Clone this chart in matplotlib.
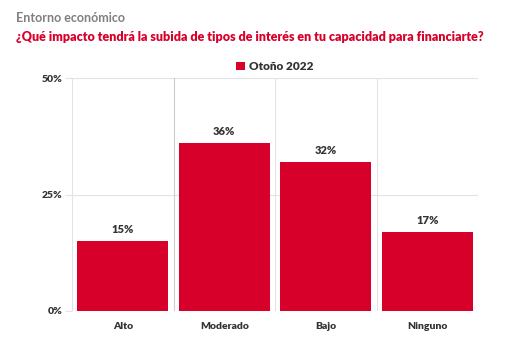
import matplotlib.pyplot as plt
import numpy as np

categories = ['Alto', 'Moderado', 'Bajo', 'Ninguno']
values = [15, 36, 32, 17]
series_name = 'Otoño 2022'
yticks = [0, 25, 50]

red = '#d7002a'
grid_c = '#e3e3e3'
text_c = '#333333'

plt.rcParams['font.family'] = ['Lato', 'DejaVu Sans']

fig = plt.figure(figsize=(5.21, 3.49), dpi=100)
ax = fig.add_axes([72 / 521, 1 - 311 / 349, (478 - 72) / 521, (311 - 78) / 349])

x = np.arange(len(categories))
bars = ax.bar(x, values, width=0.9, color=red, label=series_name, zorder=3)
for b, v in zip(bars, values):
    ax.text(b.get_x() + b.get_width() / 2, v + 1.3, f'{v}%', ha='center', va='bottom',
            fontsize=8, color=text_c, fontweight='heavy')

ax.set_xlim(-0.5, len(categories) - 0.5)
ax.set_ylim(0, 50)
ax.set_yticks(yticks)
ax.set_yticklabels([f'{t}%' for t in yticks], fontsize=7.5, color=text_c, fontweight='heavy')
ax.set_xticks(x)
ax.set_xticklabels(categories, fontsize=7.5, color=text_c, fontweight='heavy')
ax.tick_params(axis='x', length=0, pad=8)
ax.tick_params(axis='y', length=5, color=grid_c, pad=2)

for yv in yticks[1:]:
    ax.axhline(yv, color=grid_c, lw=0.8, zorder=1)
for xv in np.arange(-0.5, len(categories), 1.0):
    ax.axvline(xv, color=grid_c if xv != 0.5 else '#cccccc', lw=0.8, zorder=1)

for s in ax.spines.values():
    s.set_visible(False)

ax.legend(loc='lower center', bbox_to_anchor=(0.5, 0.98), frameon=False,
          handlelength=0.7, handleheight=0.7, handletextpad=0.4,
          prop={'weight': 'heavy', 'size': 8.5}, labelcolor=text_c)

fig.text(16 / 521, 1 - 18 / 349, 'Entorno económico', fontsize=9, color='#808080',
         fontweight='bold', va='center')
fig.text(16 / 521, 1 - 37 / 349,
         '¿Qué impacto tendrá la subida de tipos de interés en tu capacidad para financiarte?',
         fontsize=9, color=red, fontweight='heavy', va='center')

fig.savefig('out.png', dpi=100)
